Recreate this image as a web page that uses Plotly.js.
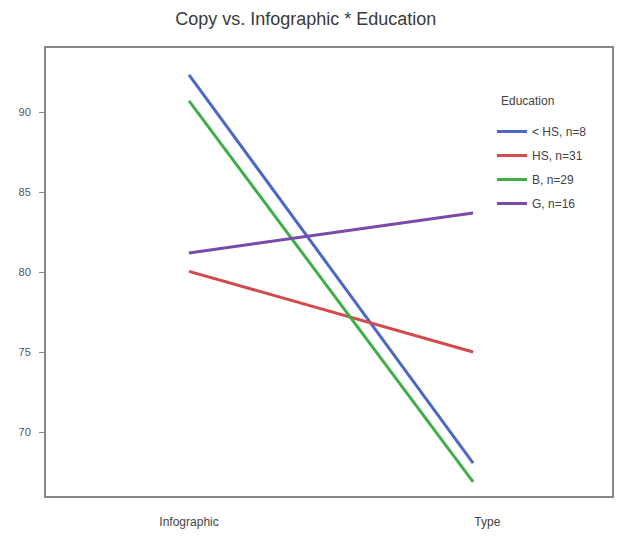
<!DOCTYPE html>
<html>
<head>
<meta charset="utf-8">
<script src="https://cdn.plot.ly/plotly-3.0.1.min.js"></script>
<style>html,body{margin:0;padding:0;background:#fff;}#chart{width:617px;height:537px;}</style>
</head>
<body>
<div id="chart"></div>
<script>
// Data
const xPositions = [0, 1];
const xTickVals = [0, 1.05];
const xTickLabels = ["Infographic", "Type"];
const legendTitle = "Education";
const seriesNames = ["< HS, n=8", "HS, n=31", "B, n=29", "G, n=16"];
const lessHS = [92.36, 68.1];
const hs = [80.08, 75.04];
const bach = [90.73, 66.92];
const grad = [81.23, 83.73];
const seriesColors = ["#4a68c8", "#d24a4c", "#3fae46", "#7a4aa8"];
const yTicks = [70, 75, 80, 85, 90];

const allSeries = [lessHS, hs, bach, grad];
const traces = allSeries.map((vals, i) => ({
  x: xPositions,
  y: vals,
  type: "scatter",
  mode: "lines",
  name: seriesNames[i],
  legendgroup: "g" + i,
  line: {color: seriesColors[i], width: 3},
  hoverinfo: "skip"
}));

const layout = {
  width: 617,
  height: 537,
  margin: {l: 46, r: 5, t: 48, b: 41},
  paper_bgcolor: "#fff",
  plot_bgcolor: "#fff",
  font: {family: "Liberation Sans, Arial, sans-serif", color: "#444", size: 12},
  title: {
    text: "Copy vs. Infographic * Education",
    font: {size: 18, color: "#3a3a3a"},
    x: 0.459, xanchor: "center", xref: "paper",
    y: 1 - 19 / 537, yanchor: "middle"
  },
  xaxis: {
    range: [-0.5035, 1.489],
    tickvals: xTickVals,
    ticktext: xTickLabels,
    ticks: "",
    showgrid: false,
    zeroline: false,
    showline: true,
    mirror: true,
    linecolor: "#888",
    linewidth: 2,
    tickfont: {size: 12, color: "#444"},
    ticklabelstandoff: 14
  },
  yaxis: {
    range: [66.04, 94.04],
    tickvals: yTicks,
    ticks: "outside",
    ticklen: 5,
    tickcolor: "#888",
    tickwidth: 1,
    showgrid: false,
    zeroline: false,
    showline: true,
    mirror: true,
    linecolor: "#888",
    linewidth: 2,
    tickfont: {size: 11, color: "#555"},
    ticklabelstandoff: 6
  },
  annotations: [{
    text: legendTitle,
    xref: "paper", yref: "paper",
    x: (499 - 46) / 566, xanchor: "left",
    y: 1 - (101 - 48) / 448, yanchor: "middle",
    showarrow: false,
    font: {size: 12, color: "#444"}
  }],
  showlegend: true,
  legend: {
    x: 0.788, xanchor: "left",
    y: 1 - (117 - 48) / 448, yanchor: "top",
    bgcolor: "rgba(0,0,0,0)",
    font: {size: 12, color: "#444"},
    traceorder: "grouped",
    tracegroupgap: 5
  }
};

Plotly.newPlot("chart", traces, layout, {displayModeBar: false, staticPlot: true});
</script>
</body>
</html>
